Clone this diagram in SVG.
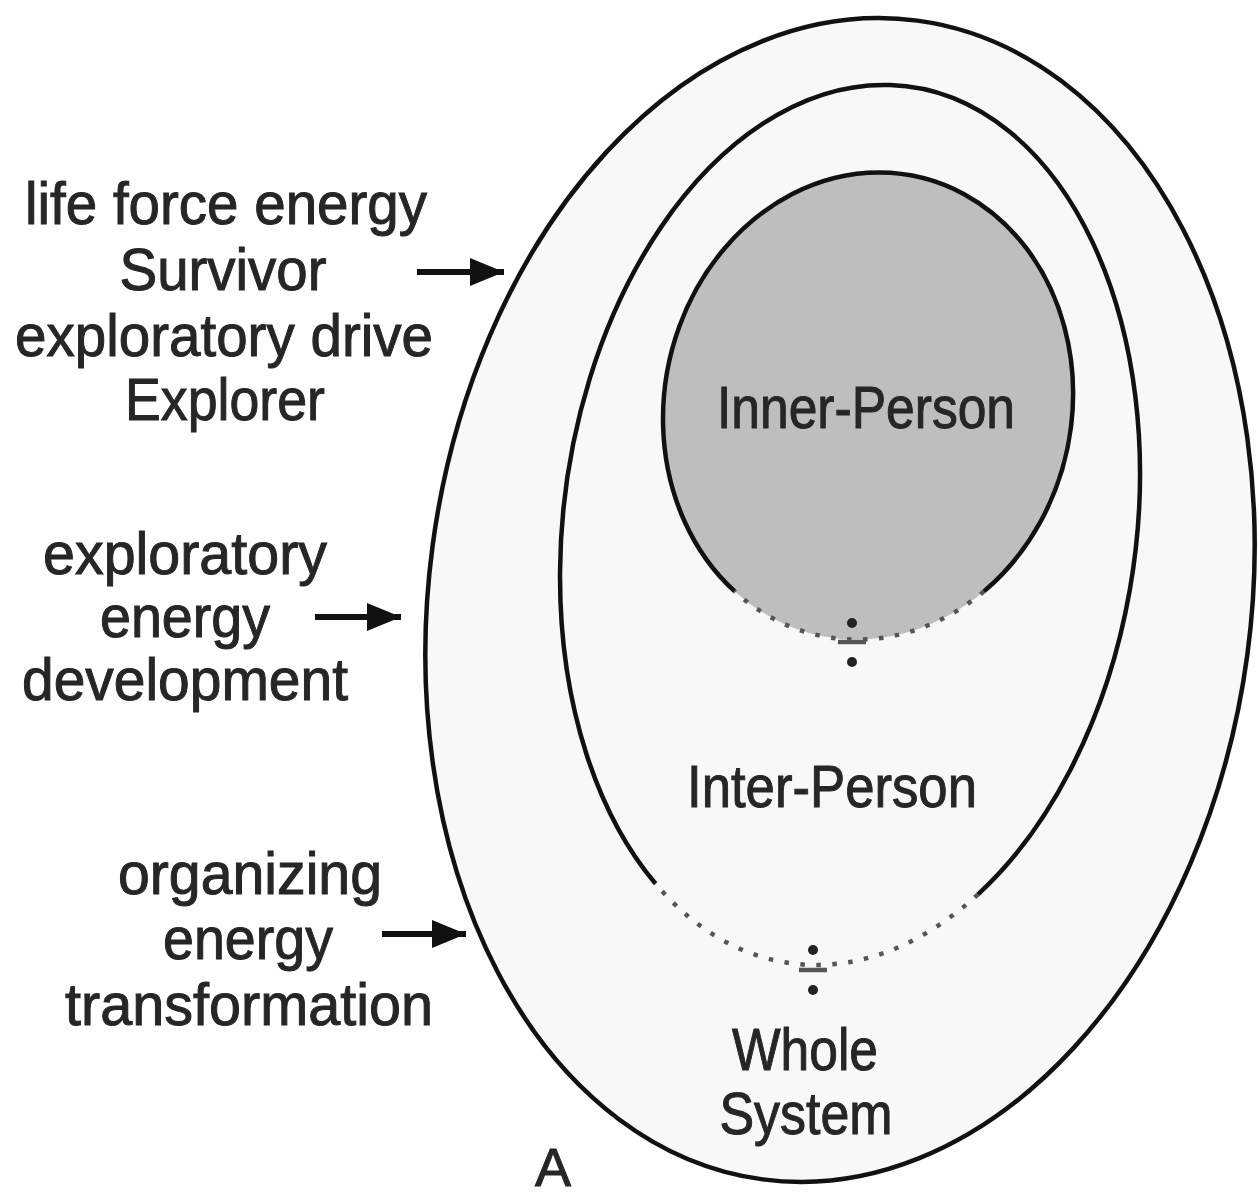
<svg xmlns="http://www.w3.org/2000/svg" width="1259" height="1196" viewBox="0 0 1259 1196">
  <style>
    .ring { stroke: #111; stroke-width: 4.5; }
    .dots { fill: none; stroke: #555; stroke-width: 4.5; stroke-dasharray: 4.5 11.5; }
    .lbl { font-family: "Liberation Sans", Arial, sans-serif; font-size: 59px; fill: #262626; stroke: #262626; stroke-width: 1; text-anchor: middle; }
    .in { font-size: 60px; }
    .arrow { stroke: #111; stroke-width: 6; fill: none; marker-end: url(#head); }
    .sym { fill: #222; }
    .bar { stroke: #555; stroke-width: 4.5; }
  </style>
  <defs>
    <marker id="head" markerUnits="userSpaceOnUse" markerWidth="36" markerHeight="30" refX="34" refY="14" orient="auto">
      <path d="M0,0 L34,14 L0,28 Z" fill="#111"/>
    </marker>
  </defs>
  <rect x="0" y="0" width="1259" height="1196" fill="#fefefe"/>

  <g id="whole-system">
    <ellipse cx="840" cy="600" rx="411" ry="584.5" transform="rotate(7.6 840 600)" fill="#f8f8f8" class="ring"/>
  </g>

  <g id="inter-person">
    <ellipse cx="850" cy="525" rx="286.5" ry="442.3" transform="rotate(7.64 850 525)" fill="#f8f8f8" stroke="none"/>
    <path class="ring" fill="none" d="M655.6,883.8 A286.5,442.3 7.64 1 1 978,894.3"/>
    <path class="dots" d="M978,894.3 A286.5,442.3 7.64 0 1 655.6,883.8"/>
  </g>

  <g id="inner-person">
    <ellipse cx="868" cy="406" rx="203.8" ry="234.6" transform="rotate(11.2 868 406)" fill="#bebebe" stroke="none"/>
    <path class="ring" fill="none" d="M734.5,591.2 A203.8,234.6 11.2 1 1 983.9,591.4"/>
    <path class="dots" d="M983.9,591.4 A203.8,234.6 11.2 0 1 734.5,591.2"/>
  </g>

  <g id="divide-inner">
    <circle class="sym" cx="852" cy="623" r="5"/>
    <line class="bar" x1="838" y1="642" x2="866" y2="642"/>
    <circle class="sym" cx="852" cy="662" r="5"/>
  </g>
  <g id="divide-inter">
    <circle class="sym" cx="813" cy="950" r="5"/>
    <line class="bar" x1="799" y1="970" x2="827" y2="970"/>
    <circle class="sym" cx="813" cy="990" r="5"/>
  </g>

  <g id="label-inner">
    <text class="lbl in" x="866" y="428" textLength="298" lengthAdjust="spacingAndGlyphs">Inner-Person</text>
  </g>
  <g id="label-inter">
    <text class="lbl in" x="832" y="807" textLength="290" lengthAdjust="spacingAndGlyphs">Inter-Person</text>
  </g>
  <g id="label-whole">
    <text class="lbl in" x="805" y="1070" textLength="146" lengthAdjust="spacingAndGlyphs">Whole</text>
    <text class="lbl in" x="806" y="1134" textLength="173" lengthAdjust="spacingAndGlyphs">System</text>
  </g>
  <g id="label-a">
    <text class="lbl" x="553" y="1186" style="font-size:53px" textLength="36" lengthAdjust="spacingAndGlyphs">A</text>
  </g>

  <g id="note-survivor">
    <text class="lbl" x="226" y="224" textLength="402" lengthAdjust="spacingAndGlyphs">life force energy</text>
    <text class="lbl" x="223" y="290" textLength="207" lengthAdjust="spacingAndGlyphs">Survivor</text>
    <text class="lbl" x="224" y="356" textLength="418" lengthAdjust="spacingAndGlyphs">exploratory drive</text>
    <text class="lbl" x="225" y="420" textLength="200" lengthAdjust="spacingAndGlyphs">Explorer</text>
  </g>
  <g id="note-development">
    <text class="lbl" x="185" y="574" textLength="284" lengthAdjust="spacingAndGlyphs">exploratory</text>
    <text class="lbl" x="185" y="637" textLength="170" lengthAdjust="spacingAndGlyphs">energy</text>
    <text class="lbl" x="185" y="700" textLength="326" lengthAdjust="spacingAndGlyphs">development</text>
  </g>
  <g id="note-transformation">
    <text class="lbl" x="250" y="894" textLength="264" lengthAdjust="spacingAndGlyphs">organizing</text>
    <text class="lbl" x="248" y="959" textLength="170" lengthAdjust="spacingAndGlyphs">energy</text>
    <text class="lbl" x="249" y="1025" textLength="368" lengthAdjust="spacingAndGlyphs">transformation</text>
  </g>

  <g id="connectors">
    <path class="arrow" d="M417,272 L504,272"/>
    <path class="arrow" d="M315,617 L401,617"/>
    <path class="arrow" d="M382,934 L466,934"/>
  </g>
</svg>
